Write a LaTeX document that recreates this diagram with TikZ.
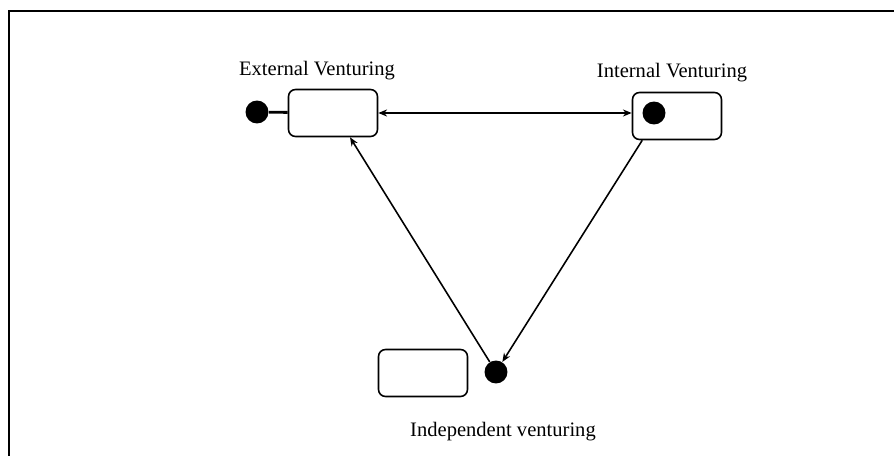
\documentclass[tikz,border=0pt]{standalone}
\usepackage{fontspec}
\setmainfont{Liberation Serif}
\usetikzlibrary{arrows.meta,positioning}
\tikzstyle{venture} = [draw, rounded corners=4pt, minimum width=1.78cm, minimum height=0.94cm, line width=0.9pt]
\tikzstyle{pseudo} = [fill, circle, inner sep=0pt, minimum size=0.46cm]
\tikzstyle{arrow} = [line width=0.9pt, -{Stealth[length=5pt,width=4pt]}]

\begin{document}
\begin{tikzpicture}[x=0.02cm, y=-0.02cm, font=\fontsize{11.7}{14}\selectfont]
\useasboundingbox (0,0) rectangle (894,456);
% Frame (cut off right and below)
\draw[line width=1.1pt] (9,456) -- (9,11) -- (894,11);

% States
\node[venture] (ext) at (333,113) {};
\node[venture] (int) at (677,116) {};
\node[venture] (ind) at (423,373) {};

% Pseudo states
\node[pseudo] (extdot) at (257,112) {};
\node[pseudo] (intdot) at (654,113) {};
\node[pseudo] (inddot) at (496,372) {};

% Labels
\node (extlbl) at (317,71) {External Venturing};
\node (intlbl) at (672,73) {Internal Venturing};
\node (indlbl) at (503,432) {Independent venturing};

% Transitions
\draw[line width=1.6pt] (extdot) -- (ext);
\draw[arrow, {Stealth[length=5pt,width=4pt]}-{Stealth[length=5pt,width=4pt]}] (ext.east) -- (ext.east -| int.west);
\draw[arrow] ([xshift=6pt]int.south west) -- (inddot);
\draw[arrow] (inddot) -- ([xshift=0.34cm]ext.south);
\end{tikzpicture}
\end{document}
